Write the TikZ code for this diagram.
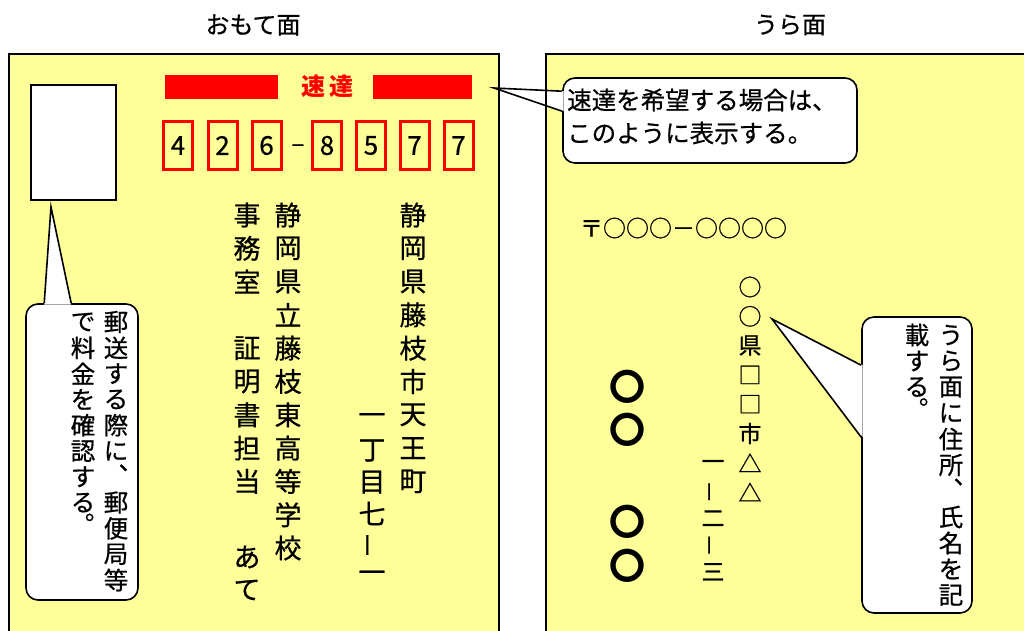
\documentclass[tikz,border=0pt]{standalone}
\usepackage{fontspec}
\usepackage{graphicx}
\usetikzlibrary{calc}
\newfontfamily\jp[FakeBold=0.6]{Noto Sans CJK JP}
\newfontfamily\jpb{Noto Sans CJK JP}
\definecolor{cardyellow}{HTML}{FFFF99}
\tikzset{
  cardline/.style={draw=black, line width=2pt},
  callout/.style={draw=black, fill=white, line width=1.6pt, rounded corners=12pt, inner sep=0pt},
  ptr/.style={draw=black, line width=1.6pt, line join=miter},
  stampbox/.style={draw=black, fill=white, line width=1.5pt, inner sep=0pt},
  redbar/.style={fill=red, draw=none, inner sep=0pt},
  zipbox/.style={draw=red, line width=3pt, minimum width=29pt, minimum height=48pt, inner sep=0pt,
                 font=\jp\fontsize{26}{26}\selectfont},
  titletext/.style={font=\jp\fontsize{24}{24}\selectfont, inner sep=0pt},
  vch/.style={font=\jp\fontsize{27}{27}\selectfont, inner sep=0pt, anchor=center},
  sch/.style={font=\jp\fontsize{24.5}{24.5}\selectfont, inner sep=0pt, anchor=center},
  bch/.style={font=\jp\fontsize{23}{23}\selectfont, inner sep=0pt, anchor=center},
  bigcirc/.style={font=\jpb\bfseries\fontsize{36}{36}\selectfont, inner sep=0pt, anchor=center},
  vpa/.style={xshift=7pt, yshift=9pt},
  vpb/.style={xshift=7pt, yshift=11pt},
}
% vertical column: #1 style, #2 name prefix, #3 x, #4 first y, #5 pitch, #6 list char/index
\newcommand\vcolumn[6]{%
  \foreach \c/\k in {#6} {\node[#1] (#2\k) at ({#3},{#4+\k*#5}) {\c};}}
\newcommand\vbar{\rotatebox{90}{－}}
\newcommand\vten{\makebox[0.36em][l]{、}}
\newcommand\vmaru{\makebox[0.42em][l]{。}}
\begin{document}
\begin{tikzpicture}[x=1pt,y=-1pt]
\useasboundingbox (0,0) rectangle (1024,630);
\clip (0,0) rectangle (1024,630);
\fill[white] (0,0) rectangle (1024,630);

% titles
\node[titletext] (title1) at (253,25) {おもて面};
\node[titletext] (title2) at (790,25) {うら面};

% card fills
\fill[cardyellow] (9,54) rectangle (499,645);
\fill[cardyellow] (546,54) rectangle (1040,645);

% ---------- front ----------
\node[stampbox, minimum width=85pt, minimum height=115pt] (stamp) at (73.5,142.5) {};

\node[redbar, minimum width=113pt, minimum height=24pt] (bar1) at (221.5,87) {};
\node[redbar, minimum width=99pt, minimum height=24pt] (bar2) at (422.5,87) {};
\node[font=\jpb\bfseries\fontsize{24}{24}\selectfont, text=red, inner sep=0pt] (sokutatsu) at (327.5,86) {速\hspace{4pt}達};

\node[zipbox] (z1) at (178,145.5) {4};
\node[zipbox] (z2) at (222.5,145.5) {2};
\node[zipbox] (z3) at (266.5,145.5) {6};
\node[font=\jp\fontsize{24}{24}\selectfont, inner sep=0pt] (zdash) at (298,148) {–};
\node[zipbox] (z4) at (327,145.5) {8};
\node[zipbox] (z5) at (371,145.5) {5};
\node[zipbox] (z6) at (414.5,145.5) {7};
\node[zipbox] (z7) at (458.5,145.5) {7};

\vcolumn{vch}{a}{413}{215}{33.3}{静/0,岡/1,県/2,藤/3,枝/4,市/5,天/6,王/7,町/8}
\vcolumn{vch}{b}{372}{419}{31.5}{一/0,丁/1,目/2,七/3,\vbar/4,一/5}
\vcolumn{vch}{c}{288}{215}{33.3}{静/0,岡/1,県/2,立/3,藤/4,枝/5,東/6,高/7,等/8,学/9,校/10}
\vcolumn{vch}{d}{247}{215}{33.3}{事/0,務/1,室/2,証/4,明/5,書/6,担/7,当/8}
\node[vch] (d10) at (247,557) {あ};
\node[vch] (d11) at (247,590) {て};

% ---------- callouts ----------
% callout 1 (postage)
\node[callout, minimum width=112pt, minimum height=296pt] (cb1) at (82,452) {};
\coordinate (tip1) at (51,207);
\fill[white] (tip1) -- ($(cb1.north west)+(19,1.5)$) -- ($(cb1.north west)+(46,1.5)$) -- cycle;
\draw[ptr] ($(cb1.north west)+(19,0)$) -- (tip1) -- ($(cb1.north west)+(46,0)$);
\vcolumn{sch}{e}{116}{322}{25.8}{郵/0,送/1,す/2,る/3,際/4,に/5,郵/7,便/8,局/9,等/10}
\node[sch, vpa] (e6) at (116,476.8) {\vten};
\vcolumn{sch}{f}{83}{322}{25.8}{で/0,料/1,金/2,を/3,確/4,認/5,す/6,る/7}
\node[sch, vpb] (f8) at (83,528.4) {\vmaru};

% callout 2 (express)
\node[callout, minimum width=294pt, minimum height=85pt] (cb2) at (710,120.5) {};
\coordinate (tip2) at (494,88);
\fill[white] (tip2) -- ($(cb2.north west)+(1.5,14)$) -- ($(cb2.north west)+(1.5,34)$) -- cycle;
\draw[ptr] ($(cb2.north west)+(0,14)$) -- (tip2) -- ($(cb2.north west)+(0,34)$);
\node[sch, anchor=west] (cl1) at (567,100) {速達を希望する場合は、};
\node[sch, anchor=west] (cl2) at (567,133) {このように表示する。};

% callout 3 (back side)
\node[callout, minimum width=110pt, minimum height=296pt] (cb3) at (917,465) {};
\coordinate (tip3) at (772,319);
\fill[white] (tip3) -- ($(cb3.north west)+(1.5,49)$) -- ($(cb3.north west)+(1.5,121)$) -- cycle;
\draw[ptr] ($(cb3.north west)+(0,49)$) -- (tip3) -- ($(cb3.north west)+(0,121)$);
\vcolumn{sch}{g}{951}{335}{26}{う/0,ら/1,面/2,に/3,住/4,所/5,氏/7,名/8,を/9,記/10}
\node[sch, vpa] (g6) at (951,491) {\vten};
\vcolumn{sch}{h}{917}{335}{26}{載/0,す/1,る/2}
\node[sch, vpb] (h3) at (917,413) {\vmaru};

% ---------- back ----------
\node[font=\jp\fontsize{23}{23}\selectfont, inner sep=0pt] (zipback) at (683.5,228) {〒○○○－○○○○};
\vcolumn{bch}{i}{750}{287}{29.3}{○/0,○/1,県/2,□/3,□/4,市/5,△/6,△/7}
\vcolumn{bch}{j}{713}{465}{26.7}{一/0,\vbar/1,二/2,\vbar/3,三/4}
\node[bigcirc] (n1) at (627.5,387) {〇};
\node[bigcirc] (n2) at (627.5,430) {〇};
\node[bigcirc] (n3) at (627.5,522) {〇};
\node[bigcirc] (n4) at (627.5,566) {〇};

% card borders on top
\draw[cardline] (9,645) -- (9,54) -- (499,54) -- (499,645);
\draw[cardline] (546,645) -- (546,54) -- (1040,54);
\end{tikzpicture}
\end{document}
